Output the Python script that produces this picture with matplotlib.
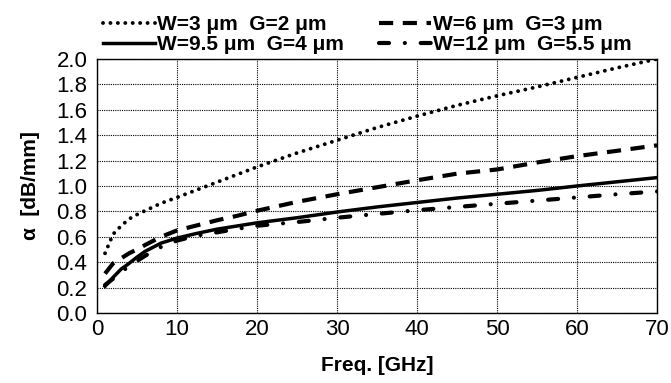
import matplotlib
matplotlib.use("Agg")
import matplotlib.pyplot as plt

plt.rcParams['font.family'] = ['Liberation Sans', 'DejaVu Sans']

# Attenuation vs frequency
freq = [1, 2, 3, 4, 5, 6, 8, 10, 12.5, 15, 17.5, 20, 25, 30, 35, 40, 45, 50, 55, 60, 65, 70]
alpha_w3 = [0.47, 0.62, 0.685, 0.74, 0.775, 0.805, 0.864, 0.91, 0.97, 1.03, 1.09, 1.15,
            1.26, 1.36, 1.46, 1.55, 1.635, 1.71, 1.78, 1.855, 1.93, 2.0]
alpha_w6 = [0.31, 0.39, 0.43, 0.47, 0.50, 0.535, 0.60, 0.65, 0.69, 0.73, 0.765, 0.805,
            0.875, 0.935, 0.99, 1.045, 1.097, 1.13, 1.185, 1.235, 1.277, 1.32]
alpha_w95 = [0.21, 0.28, 0.345, 0.39, 0.44, 0.485, 0.55, 0.59, 0.627, 0.66, 0.685, 0.71,
             0.75, 0.795, 0.835, 0.87, 0.905, 0.935, 0.965, 1.0, 1.033, 1.066]
alpha_w12 = [0.22, 0.27, 0.32, 0.37, 0.41, 0.45, 0.52, 0.57, 0.61, 0.635, 0.662, 0.687,
             0.716, 0.75, 0.78, 0.809, 0.835, 0.86, 0.885, 0.91, 0.935, 0.957]

labels = ['W=3 \u03bcm  G=2 \u03bcm', 'W=6 \u03bcm  G=3 \u03bcm',
          'W=9.5 \u03bcm  G=4 \u03bcm', 'W=12 \u03bcm  G=5.5 \u03bcm']

fig = plt.figure(figsize=(6.71, 3.83), dpi=100)
ax = fig.add_axes([0.1446, 0.1828, 0.8346, 0.6632])

l1, = ax.plot(freq, alpha_w3, color='black', lw=2.8, linestyle=(0, (0.01, 1.9)),
              dash_capstyle='round', label=labels[0])
l2, = ax.plot(freq, alpha_w6, color='black', lw=3, linestyle=(0, (3.4, 2.3)),
              dash_capstyle='butt', label=labels[1])
l3, = ax.plot(freq, alpha_w95, color='black', lw=2.5, linestyle='-', label=labels[2])
l4, = ax.plot(freq, alpha_w12, color='black', lw=3, linestyle=(0, (2.4, 3.8, 0.01, 3.8)),
              dash_capstyle='round', label=labels[3])

ax.set_xlim(0, 70)
ax.set_ylim(0, 2.0)
ax.set_xticks(range(0, 71, 10))
ax.set_yticks([i * 0.2 for i in range(11)])
ax.yaxis.set_major_formatter(matplotlib.ticker.FormatStrFormatter('%.1f'))
ax.tick_params(labelsize=16, direction='in', length=0)
ax.tick_params(axis='x', pad=4)
ax.tick_params(axis='y', pad=7)
ax.grid(True, color='black', linestyle=(0, (1, 1)), lw=0.8)
for s in ax.spines.values():
    s.set_linewidth(1.0)

ax.set_xlabel('Freq. [GHz]', fontsize=15, fontweight='bold', labelpad=12)
ax.set_ylabel('\u03b1  [dB/mm]', fontsize=15, fontweight='bold', labelpad=12)

fig.legend([l1, l3, l2, l4], [labels[0], labels[2], labels[1], labels[3]],
           ncol=2, loc='lower left', bbox_to_anchor=(0.153, 0.859), frameon=False,
           prop={'size': 15, 'weight': 'bold'}, handlelength=2.5, handletextpad=0.1,
           columnspacing=1.7, labelspacing=0.05, borderpad=0, borderaxespad=0)

fig.savefig('out.png', dpi=100)
